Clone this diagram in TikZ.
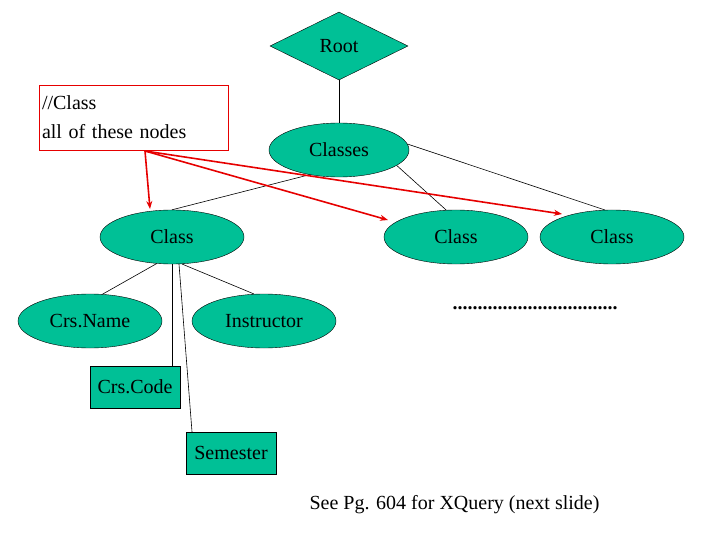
\documentclass[tikz,border=0pt]{standalone}
\usepackage{fontspec}
\setmainfont{Liberation Serif}
\usetikzlibrary{shapes.geometric,arrows.meta}
\definecolor{tealf}{RGB}{0,192,150}
\tikzset{
 ell/.style={ellipse,draw,fill=tealf,minimum width=144pt,minimum height=54pt,inner sep=0pt,font=\fontsize{20}{22}\selectfont},
 box/.style={rectangle,draw,fill=tealf,minimum width=90pt,minimum height=42pt,inner sep=0pt,font=\fontsize{20}{22}\selectfont},
 ln/.style={draw,line width=0.6pt},
 red/.style={draw={rgb,255:red,230;green,0;blue,0},line width=1.6pt,-{Stealth[length=8pt,width=6pt]}}
}
\begin{document}
\begin{tikzpicture}[x=1pt,y=-1pt]
\useasboundingbox (0,0) rectangle (720,540);
\node[diamond,draw,fill=tealf,minimum width=138pt,minimum height=68pt,inner sep=0pt,font=\fontsize{20}{22}\selectfont] (root) at (339,46) {Root};
\node[ell,minimum width=140pt] (classes) at (339,150) {Classes};
\node[ell] (c1) at (172,237) {Class};
\node[ell] (c2) at (456,237) {Class};
\node[ell] (c3) at (612,237) {Class};
\node[ell] (crsname) at (90,321) {Crs.Name};
\node[ell] (instr) at (264,321) {Instructor};
\node[box] (crscode) at (135,387) {Crs.Code};
\node[box] (sem) at (231,453) {Semester};
\node[draw={rgb,255:red,230;green,0;blue,0},minimum width=189pt,minimum height=65pt,align=left,text width=183pt,inner sep=3pt,font=\fontsize{20}{29}\selectfont] (note) at (133.5,117.5) {//Class\\all of these nodes};
\node[font=\fontsize{20}{22}\selectfont,anchor=west] (see) at (306,505) {See Pg. 604 for XQuery (next slide)};
\node[font=\fontsize{20}{22}\selectfont\bfseries,inner sep=0pt] (dots) at (535,308) {.................................};
\coordinate (src) at (145,151);
\draw[ln] (root.south) -- (classes.north);
\draw[ln] (classes.220) -- (c1.north);
\draw[ln] (classes.-15) -- (c2.110);
\draw[ln] (classes.5) -- (c3.105);
\draw[ln] (c1.240) -- (crsname.65);
\draw[ln] (c1.290) -- (instr.110);
\draw[ln] (c1.south) -- (c1.south |- crscode.north);
\draw[ln] ([xshift=7pt]c1.south) -- ([xshift=-39pt]sem.north);
\draw[red] (src) -- (150,209);
\draw[red] (src) -- (388,220);
\draw[red] (src) -- (562,214);
\end{tikzpicture}
\end{document}
